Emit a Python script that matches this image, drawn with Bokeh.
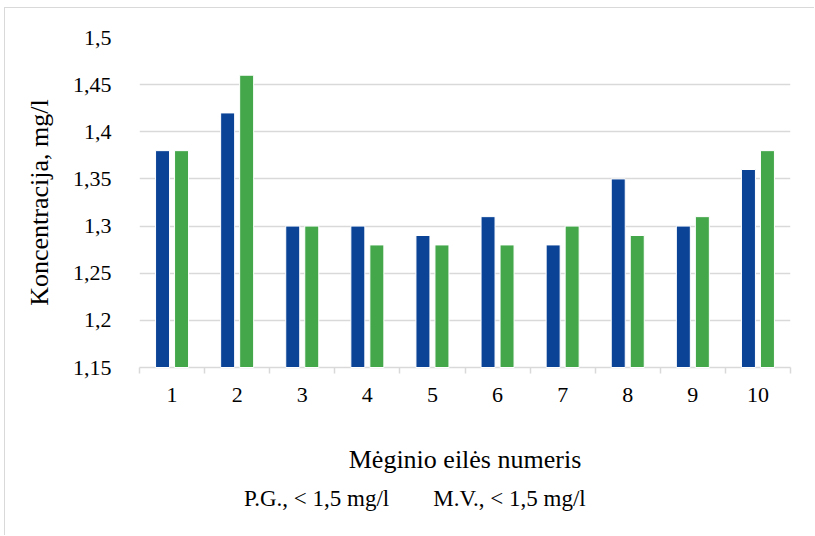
from bokeh.plotting import figure
from bokeh.layouts import column
from bokeh.models import FixedTicker, Legend, LegendItem, CDSView, IndexFilter
from bokeh.embed import file_html
from bokeh.resources import INLINE

categories = ["1", "2", "3", "4", "5", "6", "7", "8", "9", "10"]
pg_values = [1.38, 1.42, 1.30, 1.30, 1.29, 1.31, 1.28, 1.35, 1.30, 1.36]
mv_values = [1.38, 1.46, 1.30, 1.28, 1.28, 1.28, 1.30, 1.29, 1.31, 1.38]
y_ticks = [1.15, 1.2, 1.25, 1.3, 1.35, 1.4, 1.45, 1.5]
y_tick_labels = ["1,15", "1,2", "1,25", "1,3", "1,35", "1,4", "1,45", "1,5"]
series_names = ["P.G., < 1,5 mg/l", "M.V., < 1,5 mg/l"]
y_min = 1.15

AFONT = "'Liberation Serif', 'Times New Roman', serif"
LFONT = "'Liberation Serif', 'Times New Roman', serif"
BLUE = "#0B4397"
GREEN = "#44A84B"
GRID = "#D9D9D9"
series_colors = [BLUE, GREEN]
series_values = [pg_values, mv_values]

xs = list(range(1, len(categories) + 1))

p = figure(width=810, height=471, output_backend="svg", toolbar_location=None,
           x_range=(0.5, len(categories) + 0.5), y_range=(y_min, 1.5),
           min_border_left=134, min_border_right=25, min_border_top=29, min_border_bottom=112)
p.styles = {"margin-left": "4px", "margin-top": "7px",
            "border-left": "1px solid #D9D9D9", "border-top": "1px solid #D9D9D9"}
p.outline_line_color = None
p.background_fill_color = "white"
p.border_fill_color = "white"

off = 0.146
w = 0.215
# bars are drawn after the axes (annotation level) so the axis texts keep their font
p.vbar(x=[x - off for x in xs], top=pg_values, bottom=y_min, width=w,
       fill_color=BLUE, line_color="white", line_width=1, level="annotation")
p.vbar(x=[x + off for x in xs], top=mv_values, bottom=y_min, width=w,
       fill_color=GREEN, line_color="white", line_width=1, level="annotation")

# y axis
p.yaxis.ticker = FixedTicker(ticks=y_ticks)
p.yaxis.major_label_overrides = {t: l for t, l in zip(y_ticks, y_tick_labels)}
p.yaxis.axis_line_color = None
p.yaxis.major_tick_line_color = None
p.yaxis.minor_tick_line_color = None
p.yaxis.major_label_standoff = 22
p.yaxis.major_label_text_font = AFONT
p.yaxis.major_label_text_font_size = "22px"
p.yaxis.major_label_text_color = "black"
p.yaxis.axis_label = "Koncentracija, mg/l"
p.yaxis.axis_label_text_font = AFONT
p.yaxis.axis_label_text_font_size = "26px"
p.yaxis.axis_label_text_font_style = "normal"
p.yaxis.axis_label_text_color = "black"
p.yaxis.axis_label_standoff = 16

# x axis
p.xaxis.ticker = FixedTicker(ticks=xs, minor_ticks=[x + 0.5 for x in range(0, len(categories) + 1)])
p.xaxis.major_label_overrides = {x: c for x, c in zip(xs, categories)}
p.xaxis.axis_line_color = GRID
p.xaxis.axis_line_width = 1.5
p.xaxis.major_tick_line_color = None
p.xaxis.minor_tick_line_color = GRID
p.xaxis.minor_tick_line_width = 1.5
p.xaxis.minor_tick_out = 6
p.xaxis.minor_tick_in = 0
p.xaxis.major_label_standoff = 14
p.xaxis.major_label_text_font = AFONT
p.xaxis.major_label_text_font_size = "22px"
p.xaxis.major_label_text_color = "black"
p.xaxis.axis_label = "Mėginio eilės numeris"
p.xaxis.axis_label_text_font = AFONT
p.xaxis.axis_label_text_font_size = "26px"
p.xaxis.axis_label_text_font_style = "normal"
p.xaxis.axis_label_text_color = "black"
p.xaxis.axis_label_standoff = 40

p.xgrid.grid_line_color = None
p.ygrid.ticker = FixedTicker(ticks=y_ticks[1:])
p.ygrid.grid_line_color = GRID
p.ygrid.grid_line_width = 1.5

# legend strip below the chart (its frame is aligned with the chart's frame)
leg = figure(width=810, height=57, output_backend="svg", toolbar_location=None,
             x_axis_type=None, y_axis_type=None, x_range=(0, 1), y_range=(0, 1),
             min_border=0, min_border_left=0, min_border_right=0,
             min_border_top=0, min_border_bottom=0)
leg.styles = {"margin-left": "4px", "border-left": "1px solid #D9D9D9"}
leg.outline_line_color = None
leg.xgrid.visible = False
leg.ygrid.visible = False
items = []
for name, color, vals in zip(series_names, series_colors, series_values):
    # same series data; the empty view hides the bars so only the legend swatch shows
    r = leg.vbar(x=xs, top=vals, bottom=y_min, width=0.1, fill_color=color, line_alpha=0,
                 view=CDSView(filter=IndexFilter(indices=[])))
    items.append(LegendItem(label=name, renderers=[r]))
legend = Legend(items=items, orientation="horizontal", location=(89, 23))
legend.label_text_font = LFONT
legend.label_text_font_size = "23px"
legend.label_text_color = "black"
legend.glyph_width = 9
legend.glyph_height = 9
legend.spacing = 28
legend.label_standoff = 7
legend.padding = 0
legend.margin = 0
legend.border_line_color = None
legend.background_fill_alpha = 0
leg.add_layout(legend, "center")

layout = column(p, leg, spacing=0)
open("out.html", "w").write(file_html(layout, INLINE))
